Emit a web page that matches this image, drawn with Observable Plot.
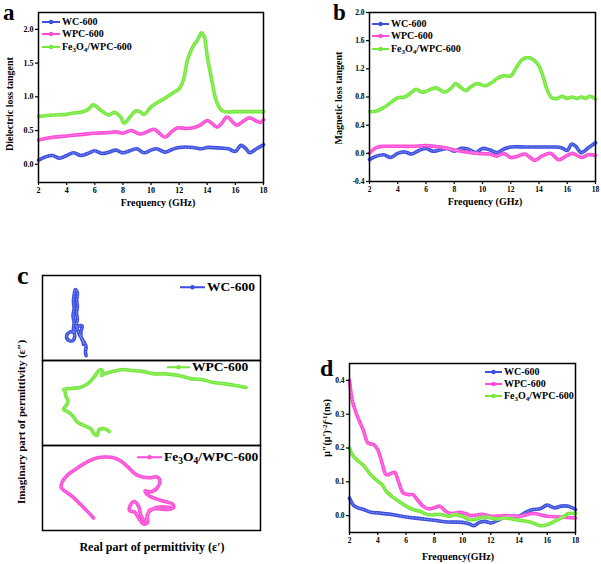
<!DOCTYPE html>
<html><head><meta charset="utf-8">
<script src="https://cdn.jsdelivr.net/npm/d3@7"></script>
<script src="https://cdn.jsdelivr.net/npm/@observablehq/plot@0.6"></script>
<style>
body{margin:0;background:#fff;}
#fig{position:relative;width:601px;height:564px;overflow:hidden;font-family:'Liberation Serif','Times New Roman',serif;font-weight:bold;color:#000;}
.abs{position:absolute;}
.lbl{position:absolute;white-space:nowrap;transform:translate(-50%,-50%);line-height:1;}
.rot{transform:translate(-50%,-50%) rotate(-90deg);}
.letter{position:absolute;line-height:1;}
.leg{position:absolute;display:flex;align-items:center;white-space:nowrap;transform:translateY(-50%);line-height:1;}
.leg sub{font-size:0.7em;vertical-align:-0.3em;line-height:0;}
.lbl sup{font-size:0.7em;vertical-align:0.45em;line-height:0;}
</style></head><body><div id="fig"></div>
<script>
const FONT = "'Liberation Serif','Times New Roman',serif";
const series = ["WC-600", "WPC-600", "Fe3O4/WPC-600"];
const colors = ["#3b4fe0", "#ff4bd6", "#74e83a"];
const colorsC = ["#3b4fe0", "#74e83a", "#ff4bd6"];
const freqTicks = [2, 4, 6, 8, 10, 12, 14, 16, 18];
const aTicks = [0, 0.5, 1, 1.5, 2];
const bTicks = [-0.4, 0, 0.4, 0.8, 1.2, 1.6, 2.0];
const dTicks = [0, 0.1, 0.2, 0.3, 0.4];

// (a) dielectric loss tangent: [frequency GHz, value]
const aWC = [[2,0.06],[2.5,0.11],[3,0.13],[3.5,0.09],[4,0.13],[4.5,0.17],[5,0.13],[5.5,0.16],[6,0.20],[6.5,0.16],[7,0.18],[7.5,0.21],[8,0.17],[8.5,0.20],[9,0.23],[9.5,0.17],[10,0.21],[10.4,0.23],[11,0.18],[11.5,0.22],[12,0.25],[13,0.25],[13.6,0.23],[14,0.25],[15,0.24],[15.5,0.23],[16,0.19],[16.4,0.28],[16.8,0.22],[17,0.17],[17.5,0.23],[18,0.29]];
const aWPC = [[2,0.36],[3,0.40],[4,0.42],[5,0.44],[6,0.46],[7,0.47],[7.5,0.48],[8,0.46],[8.6,0.50],[9.2,0.45],[9.6,0.47],[10.2,0.52],[10.6,0.46],[11,0.40],[11.4,0.47],[11.9,0.54],[12.5,0.53],[13,0.54],[13.5,0.58],[14,0.65],[14.3,0.61],[14.7,0.55],[15,0.60],[15.4,0.70],[15.8,0.63],[16.1,0.58],[16.5,0.63],[17,0.69],[17.5,0.64],[17.8,0.62],[18,0.66]];
const aFe = [[2,0.71],[3,0.73],[4,0.74],[4.5,0.76],[5,0.77],[5.5,0.81],[5.9,0.88],[6.5,0.79],[7,0.73],[7.4,0.77],[7.8,0.71],[8.1,0.61],[8.5,0.70],[8.9,0.79],[9.2,0.78],[9.5,0.74],[10,0.85],[10.5,0.92],[11,0.98],[11.5,1.05],[12,1.12],[12.3,1.25],[12.6,1.55],[13,1.75],[13.3,1.84],[13.6,1.95],[13.8,1.88],[14,1.60],[14.3,1.27],[14.6,0.97],[14.9,0.83],[15.2,0.78],[16,0.78],[17,0.78],[18,0.78]];

// (b) magnetic loss tangent
const bWC = [[2,-0.09],[2.5,-0.04],[3,-0.02],[3.5,-0.06],[4,0.00],[4.5,0.02],[5,-0.01],[5.5,0.04],[6,0.07],[6.5,0.03],[7,0.05],[7.5,0.07],[8,0.03],[8.5,0.07],[9,0.06],[9.5,0.01],[10,0.07],[10.5,0.05],[11,0.01],[11.5,0.06],[12,0.09],[13,0.09],[14,0.09],[15,0.09],[15.6,0.08],[16,0.04],[16.3,0.13],[16.6,0.10],[17,0.01],[17.5,0.08],[18,0.15]];
const bWPC = [[2,0.00],[2.3,0.06],[2.6,0.09],[3,0.10],[4,0.10],[5,0.10],[6,0.11],[7,0.09],[7.5,0.07],[8.5,0.03],[9.5,0.00],[10.5,-0.01],[11,-0.04],[11.5,0.00],[12,-0.06],[12.5,-0.04],[13,-0.01],[13.7,-0.10],[14.2,-0.04],[14.8,0.00],[15.4,-0.09],[16,-0.03],[16.4,0.00],[17,-0.06],[17.5,-0.02],[18,-0.03]];
const bFe = [[2,0.59],[2.5,0.60],[3,0.65],[3.5,0.72],[4,0.79],[4.5,0.80],[5,0.87],[5.3,0.91],[5.7,0.87],[6,0.88],[6.7,0.93],[7.3,0.87],[7.8,0.93],[8.1,0.99],[8.5,0.93],[8.8,0.89],[9.2,0.95],[9.6,0.99],[10.2,0.96],[10.7,1.01],[11,1.06],[11.5,1.10],[12,1.10],[12.4,1.22],[12.8,1.33],[13.2,1.36],[13.6,1.33],[14,1.24],[14.3,1.08],[14.6,0.89],[14.9,0.79],[15.3,0.78],[15.6,0.81],[16,0.78],[16.3,0.80],[16.7,0.78],[17,0.80],[17.3,0.78],[17.6,0.81],[18,0.77]];

// (c) Cole-Cole curves, arbitrary units [epsilon', epsilon'']
const cWC = [[20.0,5.8],[19.7,10.4],[20.0,16.5],[19.1,21.2],[17.9,25.8],[17.6,33.5],[18.2,40.4],[16.3,40.4],[14.8,34.6],[12.6,33.5],[11.1,29.6],[11.7,24.2],[13.7,23.1],[14.8,28.1],[14.2,36.5],[14.5,44.2],[14.0,52.7],[14.5,61.5],[14.2,69.2],[14.5,76.9],[15.1,83.5],[16.0,79.6],[15.7,71.2],[16.0,63.5],[15.6,55.8],[16.0,48.1],[15.4,42.3],[16.3,34.6],[17.3,28.8],[18.3,25.0],[18.8,19.2]];
const cWPC = [[30.7,16.5],[28.4,19.6],[26.0,18.8],[25.0,11.8],[23.7,13.7],[22.2,19.6],[19.1,23.5],[16.0,27.5],[13.7,35.3],[11.4,40.0],[9.6,42.4],[10.2,45.1],[11.4,49.0],[11.7,52.9],[10.6,58.8],[10.2,64.7],[9.6,65.9],[11.4,66.7],[14.5,67.5],[17.6,68.6],[20.6,72.5],[23.0,78.4],[25.3,86.3],[26.5,89.4],[27.6,87.1],[27.1,82.4],[28.4,84.3],[32.2,87.1],[36.8,89.4],[40.7,88.2],[45.3,87.5],[51.5,84.3],[56.1,84.3],[60.7,83.1],[63.8,81.6],[68.4,78.4],[73.0,77.6],[77.7,74.5],[83.8,72.5],[88.4,70.6],[93.4,68.2]];
const cFe = [[23.4,14.7],[20.6,22.5],[17.6,30.2],[13.7,39.9],[10.6,45.7],[8.6,50.4],[9.1,57.4],[11.4,65.1],[14.5,70.9],[19.1,78.7],[23.7,84.5],[28.4,86.4],[32.2,86.0],[36.1,81.4],[39.1,74.8],[42.2,67.1],[45.3,63.2],[49.2,62.0],[52.2,63.2],[53.8,59.3],[53.0,51.6],[49.9,45.7],[47.1,46.5],[48.7,41.1],[52.2,37.2],[56.1,34.1],[59.5,31.4],[60.1,27.1],[57.6,24.8],[53.0,25.6],[49.2,24.0],[48.1,16.7],[47.1,10.1],[45.3,16.7],[44.1,28.3],[42.2,34.1],[40.4,30.2],[40.0,23.3],[42.2,21.7],[44.1,14.7],[46.1,7.8],[48.1,8.9],[48.1,18.6],[50.7,25.6],[54.5,27.9],[58.4,27.1]];

// (d) mu''(mu')^-2 f^-1
const dWC = [[2,0.052],[2.3,0.030],[2.6,0.023],[3,0.018],[3.5,0.010],[4,0.008],[5,0.003],[6,-0.004],[7,-0.009],[8,-0.014],[9,-0.019],[10,-0.020],[10.5,-0.025],[10.8,-0.030],[11.2,-0.020],[11.6,-0.017],[12,-0.022],[12.5,-0.014],[13,-0.004],[13.5,-0.002],[14,-0.002],[14.5,0.010],[15,0.018],[15.5,0.020],[16,0.031],[16.5,0.023],[17,0.028],[17.5,0.028],[18,0.018]];
const dWPC = [[2,0.40],[2.2,0.34],[2.5,0.30],[3,0.25],[3.3,0.215],[3.7,0.21],[4,0.195],[4.3,0.156],[4.6,0.121],[5,0.126],[5.2,0.128],[5.5,0.097],[5.8,0.067],[6.2,0.062],[6.5,0.062],[6.8,0.047],[7.2,0.028],[7.6,0.020],[8,0.023],[8.4,0.028],[8.8,0.013],[9.2,0.006],[9.8,0.010],[10.2,0.006],[10.6,0.000],[11.4,0.004],[12,-0.002],[13,0.000],[14,-0.002],[15,0.006],[16,-0.002],[17,-0.004],[18,-0.007]];
const dFe = [[2,0.20],[2.2,0.18],[2.5,0.166],[3,0.148],[3.5,0.121],[4,0.102],[4.3,0.092],[4.6,0.072],[5,0.057],[5.5,0.042],[6,0.028],[6.5,0.018],[7,0.013],[7.5,0.003],[8,0.003],[8.5,0.003],[9,-0.002],[9.5,0.003],[10,-0.002],[10.5,-0.012],[11,-0.010],[11.5,-0.004],[12,-0.007],[12.5,-0.010],[13,-0.007],[14,-0.014],[14.5,-0.017],[15,-0.022],[15.5,-0.030],[16,-0.027],[16.5,-0.017],[17,-0.007],[17.5,0.006],[18,0.006]];

const rowsOf = sets => sets.flatMap(([pairs, s]) => pairs.map(([x, y], i) => ({x, y, s, i})));

function lineMarks(rows, extra = {}) {
  return [
    Plot.line(rows, {x: "x", y: "y", z: "s", stroke: "s", strokeWidth: 3.6, curve: "catmull-rom", ...extra}),
    Plot.line(rows, {x: "x", y: "y", z: "s", stroke: "white", strokeOpacity: 0.4, strokeWidth: 1, strokeDasharray: "1.2 1.8", curve: "catmull-rom", ...extra})
  ];
}

function freqPanel(o) {
  const rows = rowsOf(o.sets);
  return Plot.plot({
    width: o.width, height: o.height,
    marginLeft: o.m[0], marginRight: o.m[1], marginTop: o.m[2], marginBottom: o.m[3],
    x: {domain: [2, 18]},
    y: {domain: o.yDomain},
    color: {domain: series, range: colors},
    style: {fontFamily: FONT, fontWeight: "bold", fontSize: o.fs + "px", background: "transparent", overflow: "visible", color: "black"},
    marks: [
      ...lineMarks(rows),
      Plot.axisX({ticks: freqTicks, tickSize: 3, tickPadding: 2, tickFormat: d => String(d), label: null, strokeWidth: 1.2}),
      Plot.axisY({ticks: o.yTicks, tickSize: 3, tickPadding: 2, tickFormat: d => d.toFixed(1), label: null, strokeWidth: 1.2}),
      Plot.frame({stroke: "black", strokeWidth: 1.5})
    ]
  });
}

const fig = d3.select("#fig");
function place(node, left, top) {
  fig.append(() => node).style("position", "absolute").style("left", left + "px").style("top", top + "px");
}

place(freqPanel({width: 300, height: 220, m: [38, 37, 12, 38], yDomain: [-0.27, 2.25], yTicks: aTicks, fs: 8,
  sets: [[aWC, series[0]], [aWPC, series[1]], [aFe, series[2]]]}), 0, 0);
place(freqPanel({width: 301, height: 220, m: [69, 6, 12, 39], yDomain: [-0.4, 2.0], yTicks: bTicks, fs: 7.5,
  sets: [[bWC, series[0]], [bWPC, series[1]], [bFe, series[2]]]}), 300, 0);
place(freqPanel({width: 301, height: 234, m: [49, 26, 33, 32], yDomain: [-0.05, 0.45], yTicks: dTicks, fs: 7.5,
  sets: [[dWC, series[0]], [dWPC, series[1]], [dFe, series[2]]]}), 300, 330);

// panel c
const cRows = rowsOf([[cWC, series[0]], [cWPC, series[1]], [cFe, series[2]]]);
place(Plot.plot({
  width: 300, height: 265, marginLeft: 42, marginRight: 40, marginTop: 4, marginBottom: 4,
  x: {domain: [0, 100], axis: null},
  y: {domain: [0, 100], axis: null},
  fy: {domain: series, padding: 0, axis: null},
  color: {domain: series, range: colorsC},
  style: {background: "transparent", overflow: "visible"},
  marks: [
    ...lineMarks(cRows, {fy: "s"}),
    Plot.frame({stroke: "black", strokeWidth: 1.5})
  ]
}), 0, 270);

// text
function label(html, x, y, fs, rot) {
  fig.append("div").attr("class", "lbl" + (rot ? " rot" : "")).style("left", x + "px").style("top", y + "px").style("font-size", fs + "px").html(html);
}
function letter(t, x, top, fs) {
  fig.append("div").attr("class", "letter").style("left", x + "px").style("top", top + "px").style("font-size", fs + "px").text(t);
}
const feHtml = "Fe<sub>3</sub>O<sub>4</sub>/WPC-600";
function legend(x, y, color, html, fs, sw) {
  const d = fig.append("div").attr("class", "leg").style("left", x + "px").style("top", y + "px").style("font-size", fs + "px");
  const s = d.append("svg").attr("width", sw).attr("height", 8).style("margin-right", "2px").style("overflow", "visible");
  s.append("line").attr("x1", 0).attr("x2", sw).attr("y1", 4).attr("y2", 4).attr("stroke", color).attr("stroke-width", 2);
  s.append("circle").attr("cx", sw / 2).attr("cy", 4).attr("r", 2.2).attr("fill", color);
  d.append("span").html(html);
}

letter("a", 3, 1, 23);
letter("b", 333, 1, 23);
letter("c", 17, 263, 26);
letter("d", 320, 356, 24);

label("Frequency (GHz)", 158, 203, 10);
label("Dielectric loss tangent", 10, 104, 10, true);
label("Frequency (GHz)", 485, 202, 10);
label("Magnetic loss tangent", 339, 98, 10, true);
label("Real part of permittivity (ε′)", 152, 547, 12);
label("Imaginary part of permittivity (ε″)", 21, 422, 11, true);
label("Frequency(GHz)", 458, 557, 10);
label("μ″(μ′)<sup>-2</sup><i>f</i><sup>-1</sup>(ns)", 327, 428, 10, true);

const legHtml = ["WC-600", "WPC-600", feHtml];
[22, 34, 47].forEach((y, i) => legend(42, y, colors[i], legHtml[i], 10, 18));
[24, 36, 49].forEach((y, i) => legend(372, y, colors[i], legHtml[i], 10, 17));
[372, 384, 396].forEach((y, i) => legend(485, y, colors[i], legHtml[i], 10, 17));
legend(180, 287, colorsC[0], "WC-600", 13.5, 25);
legend(167, 367, colorsC[1], "WPC-600", 13.5, 23);
legend(137, 457, colorsC[2], feHtml, 13.5, 25);
</script></body></html>
